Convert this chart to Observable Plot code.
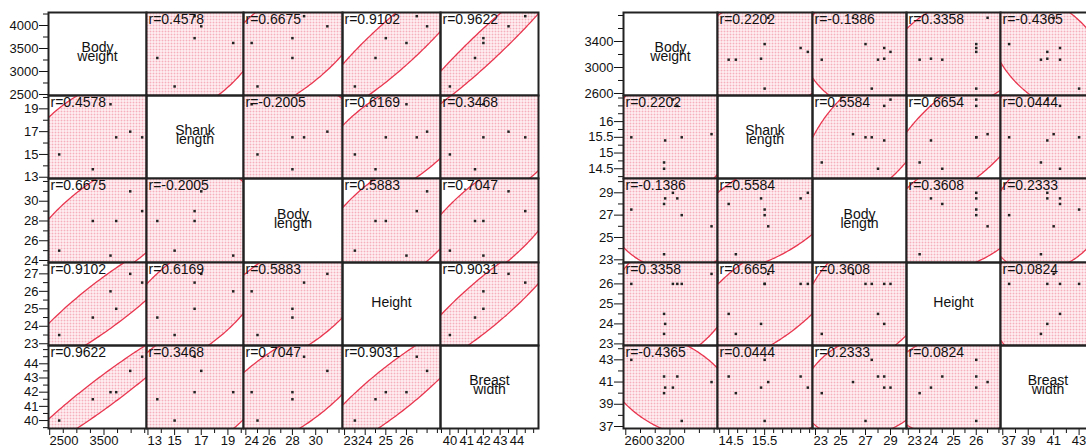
<!DOCTYPE html>
<html>
<head>
<meta charset="utf-8">
<script src="https://cdn.jsdelivr.net/npm/d3@7"></script>
<script src="https://cdn.jsdelivr.net/npm/@observablehq/plot@0.6"></script>
<style>
  html, body { margin: 0; padding: 0; background: #fff; }
  body { position: relative; width: 1086px; height: 448px; overflow: hidden; font-family: "Liberation Sans", Arial, sans-serif; }
  .cell { position: absolute; }
  .cell svg { overflow: visible; max-width: none; display: block; }
</style>
</head>
<body>
<svg width="0" height="0" style="position:absolute">
  <defs>
    <pattern id="hatch" width="3" height="3" patternUnits="userSpaceOnUse">
      <rect width="3" height="3" fill="#ffffff"></rect>
      <rect width="2" height="2" fill="#f6b0bd"></rect>
    </pattern>
  </defs>
</svg>
<div id="chart"></div>
<script>
// Trait names shown on the diagonal
const traitLabels = ["Body\nweight", "Shank\nlength", "Body\nlength", "Height", "Breast\nwidth"];

// Group A (6 birds)
const aBodyWeight   = [2675, 3294, 3620, 3725, 3983, 4203];
const aShankLength  = [15, 13.7, 19.4, 16.5, 17, 16.5];
const aBodyLength   = [25, 28, 24.5, 28, 31, 29];
const aHeight       = [23.5, 24.5, 26, 25, 27, 26.5];
const aBreastWidth  = [40, 41.5, 42, 42, 43.5, 44.5];
// Pairwise correlations, upper triangle order: (0,1) (0,2) (0,3) (0,4) (1,2) (1,3) (1,4) (2,3) (2,4) (3,4)
const aCorr = [0.4578, 0.6675, 0.9102, 0.9622, -0.2005, 0.6169, 0.3468, 0.5883, 0.7047, 0.9031];

// Group B (8 birds)
const bBodyWeight   = [2675, 3120, 3120, 3135, 3240, 3300, 3360, 3765];
const bShankLength  = [15.5, 14.5, 14.7, 15.4, 16.7, 16.5, 15.5, 15.6];
const bBodyLength   = [27.5, 28, 23.5, 28.5, 29, 28.5, 27, 26];
const bHeight       = [26, 24.5, 23.5, 24, 26, 26, 26, 26.5];
const bBreastWidth  = [43, 41.5, 40, 40.5, 40.5, 41.5, 37.5, 41];
const bCorr = [0.2202, -0.1386, 0.3358, -0.4365, 0.5584, 0.6654, 0.0444, 0.3608, 0.2333, 0.0824];

// Axis ranges and ticks per trait
const aDomains = [[2478, 4283], [12.89, 20.17], [23.8, 32.3], [22.9, 27.65], [39.44, 45.29]];
const aYMajor  = [[2500, 3000, 3500, 4000], [13, 15, 17, 19], [24, 26, 28, 30], [23, 24, 25, 26, 27], [40, 41, 42, 43, 44]];
const aYMinor  = [[2750, 3250, 3750, 4250], [14, 16, 18, 20], [25, 27, 29, 31, 32], [23.5, 24.5, 25.5, 26.5, 27.5], [39.5, 40.5, 41.5, 42.5, 43.5, 44.5, 45]];
const aXMajor  = [[2500, 3500], [13, 15, 17, 19], [24, 26, 28, 30], [23, 24, 25, 26], [40, 41, 42, 43, 44]];
const aXMinor  = [[2750, 3000, 3250, 3750, 4000, 4250], [14, 16, 18, 20], [25, 27, 29, 31, 32], [23.5, 24.5, 25.5, 26.5, 27, 27.5], [39.5, 40.5, 41.5, 42.5, 43.5, 44.5, 45]];

const bDomains = [[2569, 3846], [14.19, 16.83], [22.76, 30.28], [22.92, 27.07], [36.82, 44.29]];
const bYMajor  = [[2600, 3000, 3400], [14.5, 15, 15.5, 16], [23, 25, 27, 29], [23, 24, 25, 26], [37, 39, 41, 43]];
const bYMinor  = [[2800, 3200, 3600, 3800], [14.25, 14.75, 15.25, 15.75, 16.25, 16.5, 16.75], [24, 26, 28, 30], [23.5, 24.5, 25.5, 26.5, 27], [38, 40, 42, 44]];
const bXMajor  = [[2600, 3200], [14.5, 15.5], [23, 25, 27, 29], [23, 24, 25, 26], [37, 39, 41, 43]];
const bXMinor  = [[2800, 3000, 3400, 3600, 3800], [14.25, 14.75, 15, 15.25, 15.75, 16, 16.25, 16.5, 16.75], [24, 26, 28, 30], [23.5, 24.5, 25.5, 26.5, 27], [38, 40, 42, 44]];

// Density ellipse size (Mahalanobis radius)
const ellipseK = 2.96;

const rowEdges = [12, 95, 178, 262, 345, 428];
const groups = [
  { colEdges: [48, 146, 243, 342, 440, 538],
    traits: [aBodyWeight, aShankLength, aBodyLength, aHeight, aBreastWidth],
    corr: aCorr, domains: aDomains, yMajor: aYMajor, yMinor: aYMinor, xMajor: aXMajor, xMinor: aXMinor },
  { colEdges: [623, 717, 812, 906, 1000, 1095],
    traits: [bBodyWeight, bShankLength, bBodyLength, bHeight, bBreastWidth],
    corr: bCorr, domains: bDomains, yMajor: bYMajor, yMinor: bYMinor, xMajor: bXMajor, xMinor: bXMinor }
];

function corrAt(list, i, j) {
  const a = Math.min(i, j), b = Math.max(i, j);
  let idx = 0;
  for (let p = 0; p < 5; p++) for (let q = p + 1; q < 5; q++) {
    if (p === a && q === b) return list[idx];
    idx++;
  }
}

function ellipse(xs, ys, r) {
  const mx = d3.mean(xs), my = d3.mean(ys);
  const sx = d3.deviation(xs), sy = d3.deviation(ys);
  const s = Math.sqrt(1 - r * r);
  return d3.range(0, 241).map(n => {
    const t = (n / 240) * 2 * Math.PI;
    return { x: mx + ellipseK * sx * Math.cos(t), y: my + ellipseK * sy * (r * Math.cos(t) + s * Math.sin(t)) };
  });
}

const plain = d => String(d);
const tickFont = 13;

// Bottom axis: tick lines, then labels; a label that would spill past the
// cell's left edge is anchored at its start instead of its middle.
function xAxisMarks(domain, cw, majors, minors) {
  const pos = d3.scaleLinear(domain, [0, cw]);
  const centered = [], shifted = [];
  for (const v of majors) {
    const w = String(v).length * tickFont * 0.556;
    (pos(v) - w / 2 < 1 ? shifted : centered).push(v);
  }
  const marks = [
    Plot.axisX({ ticks: majors, tickSize: 7, tickFormat: () => "", label: null }),
    Plot.axisX({ ticks: minors, tickSize: 5, tickFormat: () => "", label: null }),
    Plot.axisX({ ticks: centered, tickSize: 0, tickPadding: 7, tickFormat: plain, label: null, fontSize: tickFont })
  ];
  for (const v of shifted) {
    marks.push(Plot.axisX({ ticks: [v], tickSize: 0, tickPadding: 7, tickFormat: plain, label: null, fontSize: tickFont,
      textAnchor: "start", dx: 1 - pos(v) }));
  }
  return marks;
}

const chart = document.getElementById("chart");
const fontFamily = '"Liberation Sans", Arial, sans-serif';

for (const g of groups) {
  for (let i = 0; i < 5; i++) {
    for (let j = 0; j < 5; j++) {
      const onLeft = j === 0, onBottom = i === 4;
      const ml = onLeft ? 48 : 0, mb = onBottom ? 20 : 0;
      const cw = g.colEdges[j + 1] - g.colEdges[j];
      const ch = rowEdges[i + 1] - rowEdges[i];
      const marks = [];
      if (i === j) {
        marks.push(Plot.text([traitLabels[i]], { frameAnchor: "middle", text: d => d, fontSize: 14, lineHeight: 0.62, fill: "#111" }));
      } else {
        const xs = g.traits[j], ys = g.traits[i];
        const r = corrAt(g.corr, i, j);
        const pts = xs.map((x, k) => ({ x, y: ys[k] }));
        marks.push(Plot.line(ellipse(xs, ys, r), { x: "x", y: "y", fill: "url(#hatch)", stroke: "#e8364f", strokeWidth: 1.3, clip: true }));
        marks.push(Plot.dot(pts, { x: "x", y: "y", symbol: "square", r: 1.4, fill: "#222", stroke: null, clip: true }));
        marks.push(Plot.text([`r=${r.toFixed(4)}`], { frameAnchor: "top-left", text: d => d, dx: 2, dy: 2, fontSize: 14, fill: "#111" }));
      }
      if (onLeft) {
        marks.push(Plot.axisY({ ticks: g.yMajor[i], tickSize: 9, tickPadding: 1, tickFormat: plain, label: null, fontSize: tickFont }));
        marks.push(Plot.axisY({ ticks: g.yMinor[i], tickSize: 5, tickFormat: () => "", label: null }));
      }
      if (onBottom) marks.push(...xAxisMarks(g.domains[j], cw, g.xMajor[j], g.xMinor[j]));
      marks.push(Plot.frame({ stroke: "#222", strokeWidth: 2 }));
      const plot = Plot.plot({
        width: cw + ml, height: ch + mb,
        marginLeft: ml, marginRight: 0, marginTop: 0, marginBottom: mb,
        x: { domain: g.domains[j], axis: onBottom ? undefined : null },
        y: { domain: g.domains[i], axis: onLeft ? undefined : null },
        style: { fontSize: "14px", fontFamily, background: "transparent", color: "#111", overflow: "visible" },
        marks
      });
      const div = document.createElement("div");
      div.className = "cell";
      div.style.left = (g.colEdges[j] - ml) + "px";
      div.style.top = rowEdges[i] + "px";
      div.style.width = (cw + ml) + "px";
      div.style.height = (ch + mb) + "px";
      div.appendChild(plot);
      chart.appendChild(div);
    }
  }
}
</script>
</body>
</html>
